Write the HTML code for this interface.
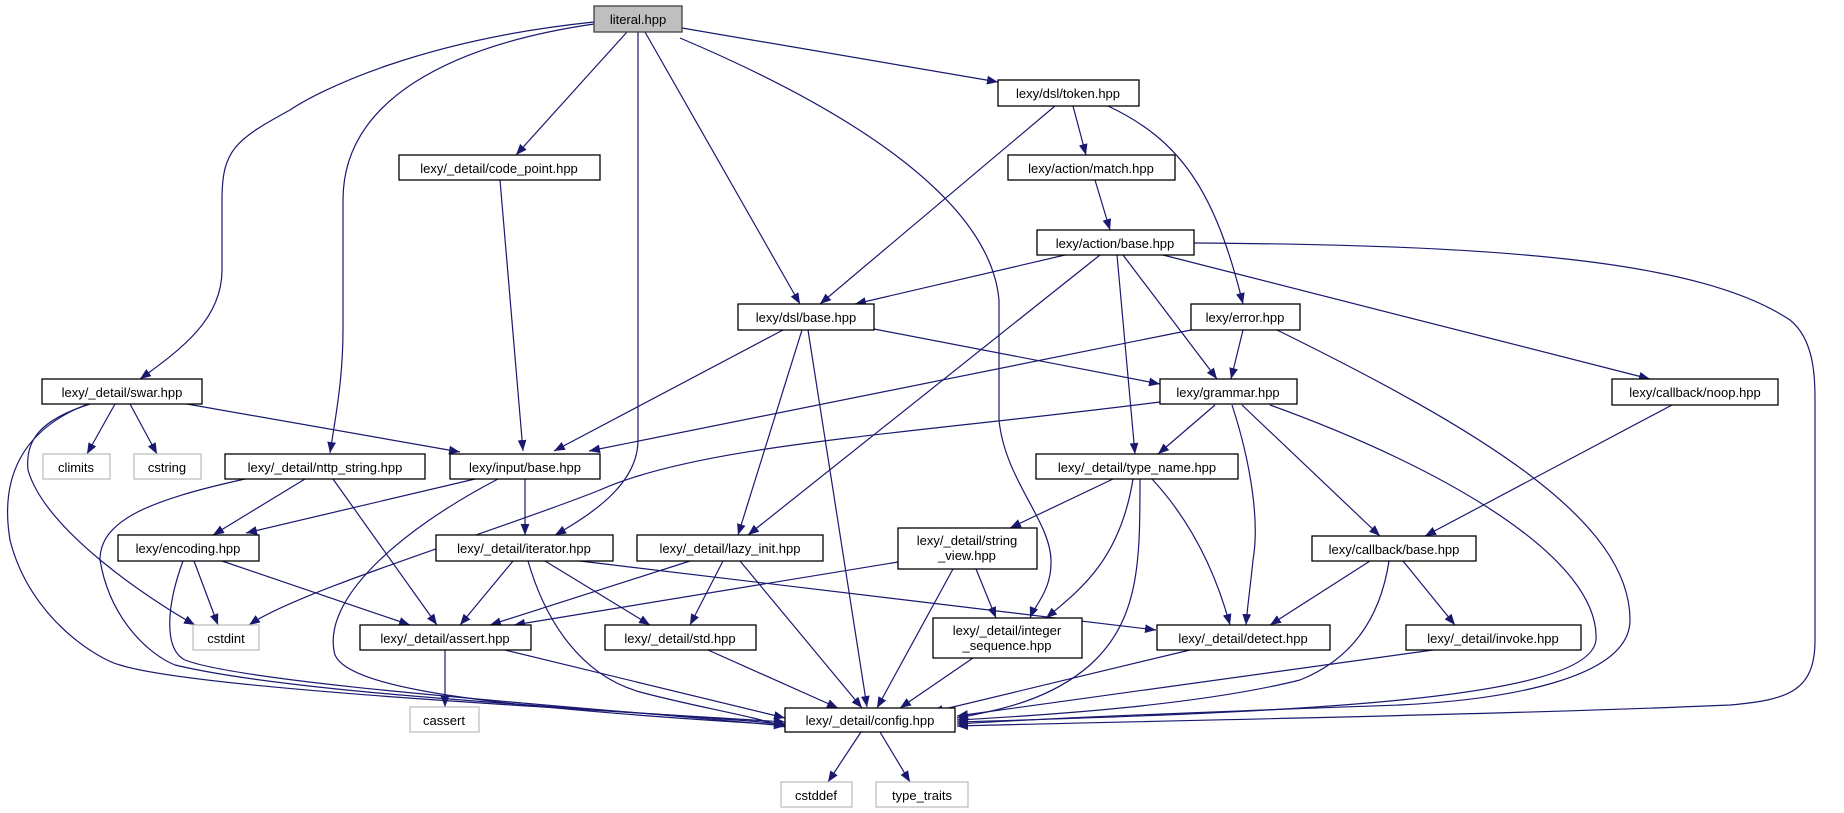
<!DOCTYPE html>
<html><head><meta charset="utf-8"><style>
html,body{margin:0;padding:0;background:#fff;}
svg{display:block;}
text{font-family:"Liberation Sans","DejaVu Sans",sans-serif;font-size:13px;fill:#000;}
.n{fill:#fff;stroke:#000;stroke-width:1.3;}
.s{fill:#fff;stroke:#bfbfbf;stroke-width:1.3;}
.e{fill:none;stroke:#191970;stroke-width:1.2;}
</style></head><body>
<svg width="1844" height="813" viewBox="0 0 1844 813" xmlns="http://www.w3.org/2000/svg">
<defs><marker id="a" viewBox="0 0 10 10" refX="10" refY="5" markerWidth="11" markerHeight="11" markerUnits="userSpaceOnUse" orient="auto"><path d="M0,1 L10,5 L0,9 z" fill="#191970"/></marker></defs>
<g class="e" marker-end="url(#a)">
<path d="M594,22 C420,40 320,90 290,110 C235,140 222,150 222,200 L222,270 C222,320 180,350 140,379"/>
<path d="M594,24 C450,45 343,100 343,200 L343,330 C343,380 335,420 330,453"/>
<path d="M627,32 L516,155"/>
<path d="M638,32 L638,440 C638,480 600,510 555,535"/>
<path d="M645,32 L800,304"/>
<path d="M680,38 C850,110 990,200 999,300 L999,420 C1005,480 1050,520 1051,560 C1052,590 1035,605 1030,618"/>
<path d="M682,28 L998,82"/>
<path d="M1055,106 L820,304"/>
<path d="M1073,106 L1086,155"/>
<path d="M1108,106 C1180,140 1215,190 1243,304"/>
<path d="M1095,180 L1110,230"/>
<path d="M1065,255 L855,304"/>
<path d="M1100,255 L748,535"/>
<path d="M1117,255 L1135,454"/>
<path d="M1123,255 L1217,379"/>
<path d="M1163,255 L1650,379"/>
<path d="M1194,243 C1500,245 1700,260 1790,320 C1815,340 1815,380 1815,400 L1815,640 C1815,690 1790,700 1730,705 C1500,715 1100,722 957,726"/>
<path d="M1191,330 L589,451"/>
<path d="M1243,330 L1231,379"/>
<path d="M1277,330 C1480,430 1630,520 1630,620 C1630,680 1500,700 1400,705 C1200,712 1050,718 957,724"/>
<path d="M783,330 L554,451"/>
<path d="M802,330 L738,535"/>
<path d="M808,330 L867,707"/>
<path d="M874,329 L1160,384"/>
<path d="M115,404 L87,454"/>
<path d="M130,404 L157,454"/>
<path d="M187,404 L460,452"/>
<path d="M90,404 C40,420 25,440 28,470 C45,530 150,600 195,625"/>
<path d="M88,404 C20,430 0,480 10,540 C30,620 100,660 120,665 C200,690 600,710 785,722"/>
<path d="M1160,402 C900,435 700,445 600,490 C500,530 300,590 249,625"/>
<path d="M1215,405 L1158,454"/>
<path d="M1232,405 C1250,460 1260,520 1253,560 C1250,590 1247,610 1246,625"/>
<path d="M1242,405 L1380,536"/>
<path d="M1270,405 C1450,470 1600,560 1596,640 C1590,700 1300,712 957,722"/>
<path d="M1672,405 L1425,536"/>
<path d="M1113,479 L1010,528"/>
<path d="M1133,479 C1120,560 1080,590 1046,618"/>
<path d="M1140,479 C1140,560 1140,620 1090,665 C1050,700 1000,710 957,718"/>
<path d="M1152,479 C1190,520 1215,570 1230,625"/>
<path d="M898,562 L514,625"/>
<path d="M976,569 L996,618"/>
<path d="M953,569 L877,708"/>
<path d="M690,561 L490,625"/>
<path d="M723,561 L690,625"/>
<path d="M740,561 L862,708"/>
<path d="M513,561 L460,625"/>
<path d="M545,561 L650,625"/>
<path d="M528,561 C545,620 580,675 640,692 C700,708 750,715 785,727"/>
<path d="M580,561 L1156,630"/>
<path d="M525,479 L525,535"/>
<path d="M475,479 L246,533"/>
<path d="M498,479 C400,530 320,600 335,655 C350,690 500,708 785,725"/>
<path d="M305,479 L213,535"/>
<path d="M333,479 L437,625"/>
<path d="M245,479 C150,500 100,520 100,560 C110,620 150,655 175,665 C300,695 600,708 785,724"/>
<path d="M194,561 L218,625"/>
<path d="M222,561 L410,625"/>
<path d="M183,561 C165,610 165,650 185,660 C250,685 600,708 785,726"/>
<path d="M445,650 L445,707"/>
<path d="M505,650 L785,718"/>
<path d="M708,650 L838,708"/>
<path d="M973,658 L900,708"/>
<path d="M1190,650 L932,712"/>
<path d="M1370,561 L1270,625"/>
<path d="M1403,561 L1455,625"/>
<path d="M1389,561 C1380,620 1350,660 1300,680 C1200,705 1050,715 957,720"/>
<path d="M1433,650 L957,716"/>
<path d="M861,732 L828,782"/>
<path d="M880,732 L910,782"/>
<path d="M500,180 L523,451"/>
</g>
<g>
<rect x="594" y="6" width="88" height="26" fill="#bfbfbf" stroke="#404040" stroke-width="1.3"/><text x="638" y="24" text-anchor="middle">literal.hpp</text>
<rect class="n" x="998" y="80" width="141" height="26"/><text x="1068" y="98" text-anchor="middle">lexy/dsl/token.hpp</text>
<rect class="n" x="399" y="155" width="201" height="25"/><text x="499" y="173" text-anchor="middle">lexy/_detail/code_point.hpp</text>
<rect class="n" x="1008" y="155" width="167" height="25"/><text x="1091" y="173" text-anchor="middle">lexy/action/match.hpp</text>
<rect class="n" x="1037" y="230" width="157" height="25"/><text x="1115" y="248" text-anchor="middle">lexy/action/base.hpp</text>
<rect class="n" x="738" y="304" width="136" height="26"/><text x="806" y="322" text-anchor="middle">lexy/dsl/base.hpp</text>
<rect class="n" x="1191" y="304" width="109" height="26"/><text x="1245" y="322" text-anchor="middle">lexy/error.hpp</text>
<rect class="n" x="42" y="379" width="160" height="25"/><text x="122" y="397" text-anchor="middle">lexy/_detail/swar.hpp</text>
<rect class="n" x="1160" y="379" width="137" height="25"/><text x="1228" y="397" text-anchor="middle">lexy/grammar.hpp</text>
<rect class="n" x="1612" y="379" width="166" height="26"/><text x="1695" y="397" text-anchor="middle">lexy/callback/noop.hpp</text>
<rect class="s" x="43" y="454" width="67" height="25"/><text x="76" y="472" text-anchor="middle">climits</text>
<rect class="s" x="134" y="454" width="67" height="25"/><text x="167" y="472" text-anchor="middle">cstring</text>
<rect class="n" x="225" y="454" width="200" height="25"/><text x="325" y="472" text-anchor="middle">lexy/_detail/nttp_string.hpp</text>
<rect class="n" x="450" y="454" width="150" height="25"/><text x="525" y="472" text-anchor="middle">lexy/input/base.hpp</text>
<rect class="n" x="1036" y="454" width="202" height="25"/><text x="1137" y="472" text-anchor="middle">lexy/_detail/type_name.hpp</text>
<rect class="n" x="118" y="535" width="141" height="26"/><text x="188" y="553" text-anchor="middle">lexy/encoding.hpp</text>
<rect class="n" x="436" y="535" width="177" height="26"/><text x="524" y="553" text-anchor="middle">lexy/_detail/iterator.hpp</text>
<rect class="n" x="637" y="535" width="186" height="26"/><text x="730" y="553" text-anchor="middle">lexy/_detail/lazy_init.hpp</text>
<rect class="n" x="898" y="528" width="139" height="41"/><text x="967" y="545" text-anchor="middle">lexy/_detail/string</text><text x="967" y="560" text-anchor="middle">_view.hpp</text>
<rect class="n" x="1312" y="536" width="164" height="25"/><text x="1394" y="554" text-anchor="middle">lexy/callback/base.hpp</text>
<rect class="s" x="193" y="625" width="66" height="25"/><text x="226" y="643" text-anchor="middle">cstdint</text>
<rect class="n" x="360" y="625" width="171" height="25"/><text x="445" y="643" text-anchor="middle">lexy/_detail/assert.hpp</text>
<rect class="n" x="605" y="625" width="151" height="25"/><text x="680" y="643" text-anchor="middle">lexy/_detail/std.hpp</text>
<rect class="n" x="933" y="618" width="149" height="40"/><text x="1007" y="635" text-anchor="middle">lexy/_detail/integer</text><text x="1007" y="650" text-anchor="middle">_sequence.hpp</text>
<rect class="n" x="1157" y="625" width="173" height="25"/><text x="1243" y="643" text-anchor="middle">lexy/_detail/detect.hpp</text>
<rect class="n" x="1406" y="625" width="175" height="25"/><text x="1493" y="643" text-anchor="middle">lexy/_detail/invoke.hpp</text>
<rect class="s" x="410" y="707" width="69" height="25"/><text x="444" y="725" text-anchor="middle">cassert</text>
<rect class="n" x="785" y="708" width="170" height="24"/><text x="870" y="725" text-anchor="middle">lexy/_detail/config.hpp</text>
<rect class="s" x="781" y="782" width="71" height="25"/><text x="816" y="800" text-anchor="middle">cstddef</text>
<rect class="s" x="876" y="782" width="92" height="25"/><text x="922" y="800" text-anchor="middle">type_traits</text>
</g>
</svg>
</body></html>
